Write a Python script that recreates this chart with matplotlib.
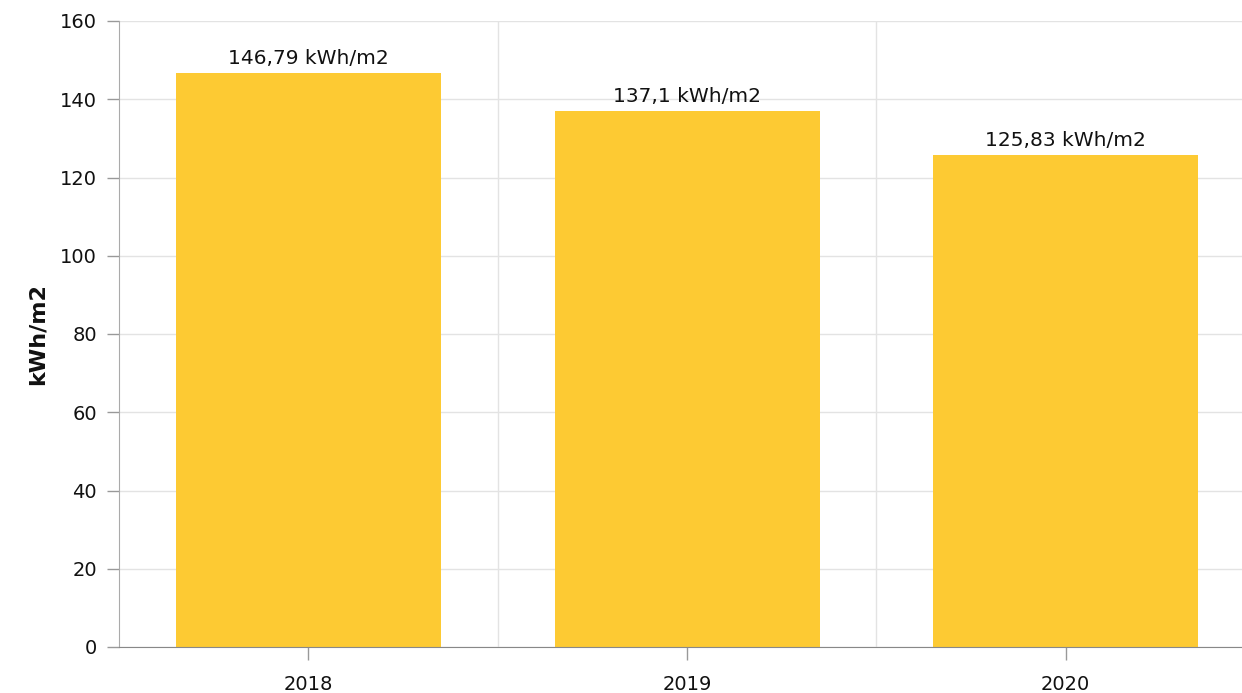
import matplotlib
matplotlib.use("Agg")
import matplotlib.pyplot as plt

categories = ["2018", "2019", "2020"]
values = [146.79, 137.1, 125.83]
labels = ["146,79 kWh/m2", "137,1 kWh/m2", "125,83 kWh/m2"]
yticks = [0, 20, 40, 60, 80, 100, 120, 140, 160]

plt.rcParams['font.family'] = ['DejaVu Sans']
fig = plt.figure(figsize=(12.42, 6.93), dpi=100)
ax = fig.add_axes([119/1242, 1-647/693, 1-119/1242, (647-21)/693])

x = list(range(len(categories)))
ax.bar(x, values, width=0.70, color='#FDCA33', zorder=2)
for xi, v, lab in zip(x, values, labels):
    ax.text(xi, v + 1.3, lab, ha='center', va='bottom', fontsize=14.5, color='#111111', zorder=3)

ax.set_xlim(-0.5, -0.5 + (1242-119)/378.7)
ax.set_ylim(0, 160)
ax.set_yticks(yticks)
ax.set_xticks(x)
ax.set_xticklabels(categories)
ax.set_xticks([0.5, 1.5], minor=True)
ax.grid(True, which='minor', axis='x', color='#e3e3e3', linewidth=1, zorder=0)
ax.grid(True, which='major', axis='y', color='#e3e3e3', linewidth=1, zorder=0)
ax.tick_params(axis='x', which='minor', length=0)
ax.tick_params(axis='both', which='major', labelsize=14, colors='#999999', labelcolor='#111111', length=9, width=1)
ax.tick_params(axis='x', which='major', pad=11)
ax.tick_params(axis='y', which='major', pad=7)
for s in ['top', 'right']:
    ax.spines[s].set_visible(False)
ax.spines['left'].set_color('#aaaaaa')
ax.spines['bottom'].set_color('#888888')
ax.set_ylabel('kWh/m2', fontsize=16, fontweight='bold', labelpad=9, color='#111111')

fig.savefig('out.png', dpi=100)
